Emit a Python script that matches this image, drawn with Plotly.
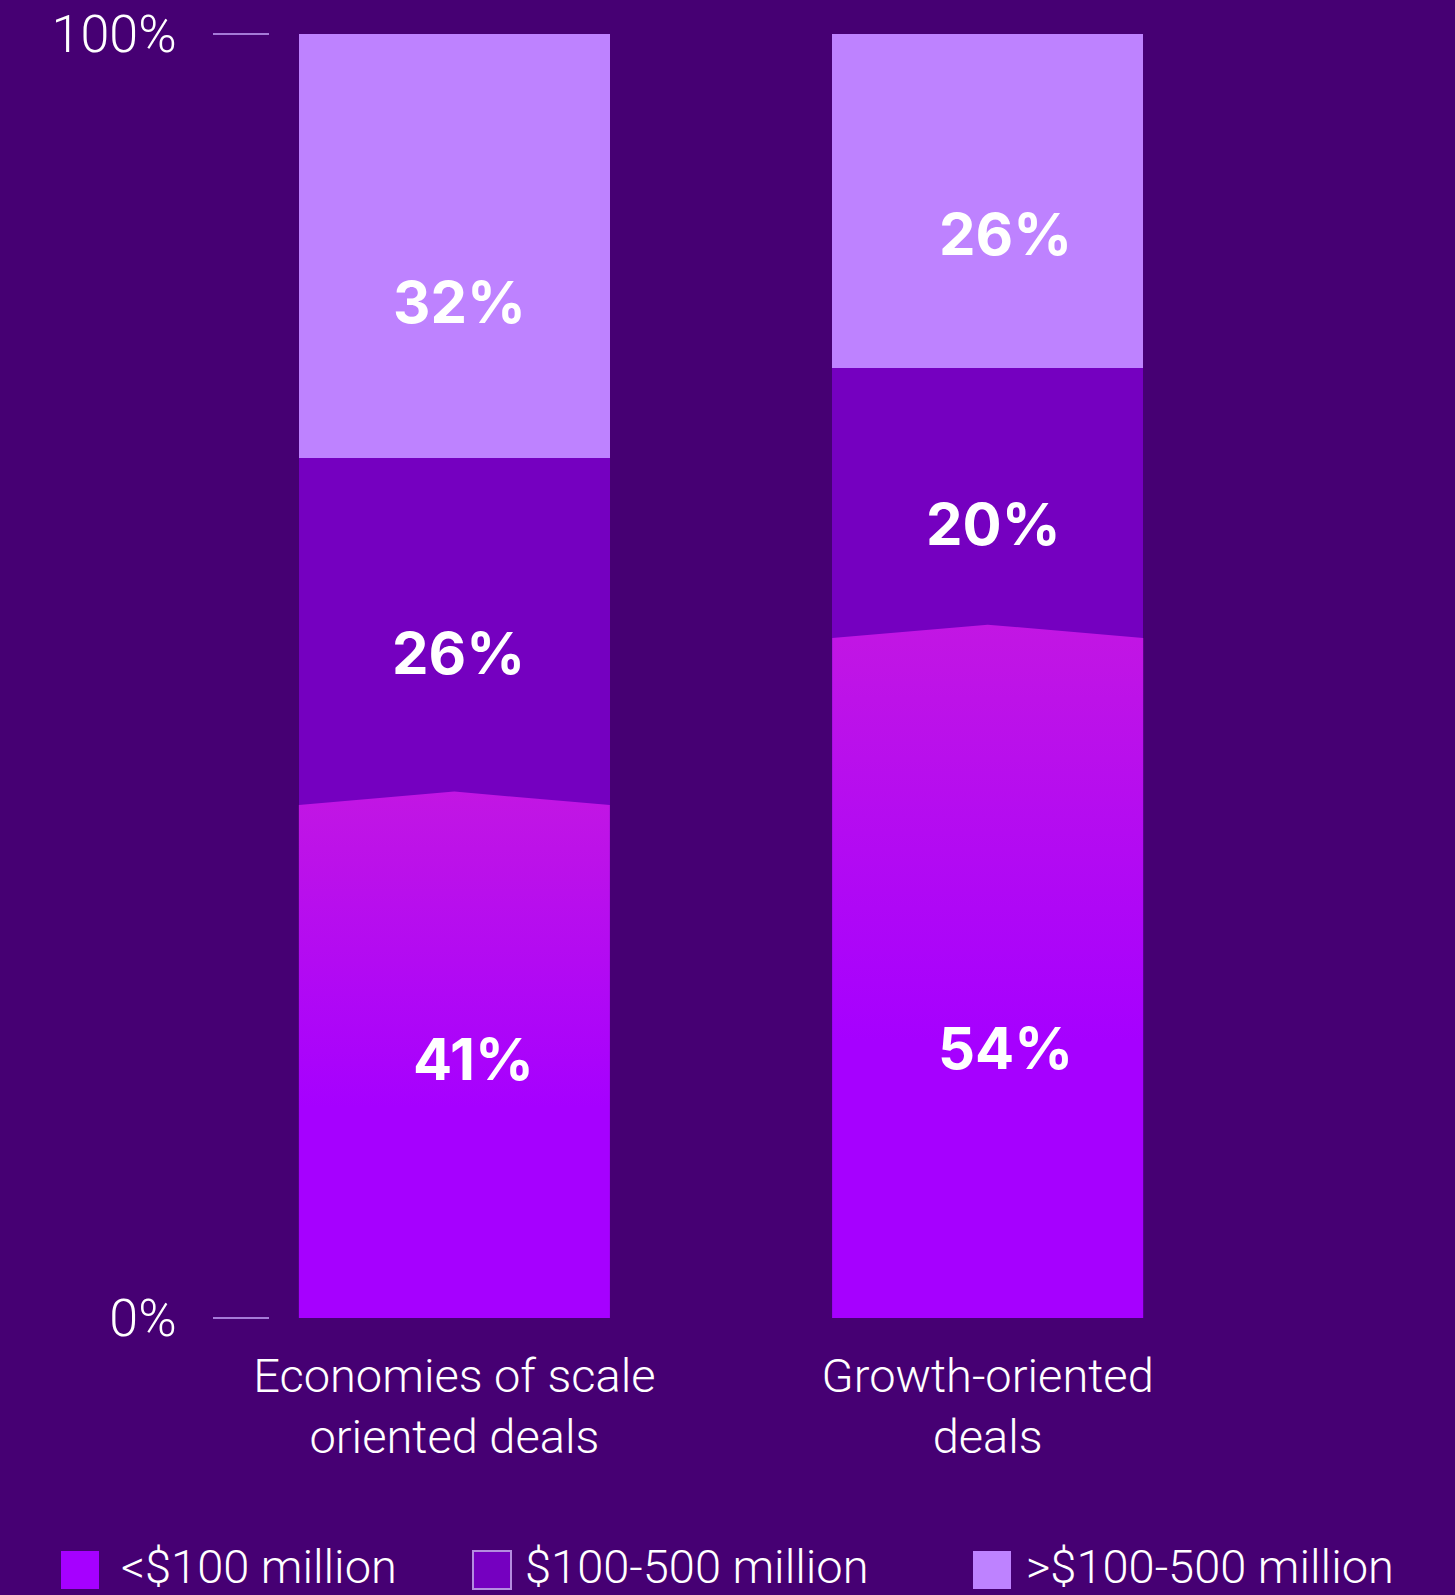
import plotly.graph_objects as go

# ---------------- data ----------------
categories = ["Economies of scale<br>oriented deals", "Growth-oriented<br>deals"]
series_names = ["<$100 million", "$100-500 million", ">$100-500 million"]
small_deals = [41, 54]      # <$100 million
mid_deals = [26, 20]        # $100-500 million
large_deals = [32, 26]      # >$100-500 million
y_tick_vals = [0, 100]
y_tick_text = ["0%", "100%"]

# ---------------- style ----------------
W, H = 1455, 1595
ML, MR, MT, MB = 270, 15, 34, 277
BG = "#460073"
C_TOP = "#BE82FF"
C_MID = "#7500C0"
C_BOT = "#A600FF"
C_BOT_HI = "#C216E3"
TICK_C = "#A57AD8"
BAR_W = 0.583
PEAK_DROP = 1.05          # decorative notch height of the bottom segment (axis units)
LIGHT = dict(family="Roboto, Inter, Open Sans, sans-serif", color="white", weight=300)
BOLD = dict(family="Inter, Roboto, Open Sans, sans-serif", color="white", weight=700)

xpos = list(range(len(categories)))
mid_top = [s + m for s, m in zip(small_deals, mid_deals)]

fig = go.Figure()

# top segment: fills from the end of the middle segment to 100%
fig.add_bar(x=xpos, base=mid_top, y=[100 - b for b in mid_top], width=BAR_W,
            marker=dict(color=C_TOP, line=dict(width=0)), name=series_names[2],
            hoverinfo="skip", showlegend=False)
# middle segment
fig.add_bar(x=xpos, base=[0] * len(xpos), y=mid_top, width=BAR_W,
            marker=dict(color=C_MID, line=dict(width=0)), name=series_names[1],
            hoverinfo="skip", showlegend=False)
# bottom segment with gradient and peaked top
hw = BAR_W / 2
for xc, v in zip(xpos, small_deals):
    fig.add_scatter(
        x=[xc - hw, xc - hw, xc, xc + hw, xc + hw, xc - hw],
        y=[0, v - PEAK_DROP, v, v - PEAK_DROP, 0, 0],
        mode="none", fill="toself", fillcolor=C_BOT,
        fillgradient=dict(type="vertical",
                          colorscale=[[0, C_BOT], [0.4, C_BOT], [1, C_BOT_HI]],
                          start=0, stop=v),
        hoverinfo="skip", showlegend=False, name=series_names[0])

# value labels (positions in axis units, as placed in the original)
label_x = [[0.009, 0.007, 0.035], [1.033, 1.01, 1.033]]
label_y = [[79.1, 51.8, 20.2], [84.4, 61.8, 21.0]]
annotations = []
for i in range(len(categories)):
    vals = [large_deals[i], mid_deals[i], small_deals[i]]
    for j, v in enumerate(vals):
        annotations.append(dict(x=label_x[i][j], y=label_y[i][j], xref="x", yref="y",
                                text=f"{v}%", showarrow=False,
                                font=dict(size=58, **BOLD),
                                xanchor="center", yanchor="middle"))

# custom legend (pixel -> paper)
L, R, T, B = ML, W - MR, MT, H - MB
def px(xp):
    return (xp - L) / (R - L)
def py(yp):
    return (B - yp) / (B - T)

legend_colors = [C_BOT, C_MID, C_TOP]
legend_box_x = [61, 473, 973]
legend_text_x = [119, 523, 1024]
shapes = []
for k, name in enumerate(series_names):
    x0 = legend_box_x[k]
    shapes.append(dict(type="rect", xref="paper", yref="paper",
                       x0=px(x0), x1=px(x0 + 38), y0=py(1589), y1=py(1551),
                       fillcolor=legend_colors[k],
                       line=dict(color="#B48CE0" if k == 1 else legend_colors[k],
                                 width=2 if k == 1 else 0)))
    annotations.append(dict(x=px(legend_text_x[k]), y=py(1566), xref="paper", yref="paper",
                            text=name.replace("<", "&lt;").replace(">", "&gt;"),
                            showarrow=False, xanchor="left", yanchor="middle",
                            font=dict(size=47, **LIGHT)))

fig.update_layout(
    width=W, height=H,
    margin=dict(l=ML, r=MR, t=MT, b=MB, pad=0, autoexpand=False),
    paper_bgcolor=BG, plot_bgcolor=BG,
    barmode="overlay", bargap=0,
    showlegend=False,
    annotations=annotations, shapes=shapes,
    xaxis=dict(range=[-0.3456, 1.848], tickvals=xpos, ticktext=categories,
               showgrid=False, zeroline=False, showline=False, ticks="",
               automargin=False,
               tickfont=dict(size=47, **LIGHT), ticklabelstandoff=26, fixedrange=True),
    yaxis=dict(range=[0, 100], tickvals=y_tick_vals, ticktext=y_tick_text,
               showgrid=False, zeroline=False, showline=False, automargin=False,
               ticks="outside", ticklen=56, tickwidth=1.5, tickcolor=TICK_C,
               tickfont=dict(size=52, **LIGHT), ticklabelstandoff=26, fixedrange=True),
)

fig.write_html("out.html")
